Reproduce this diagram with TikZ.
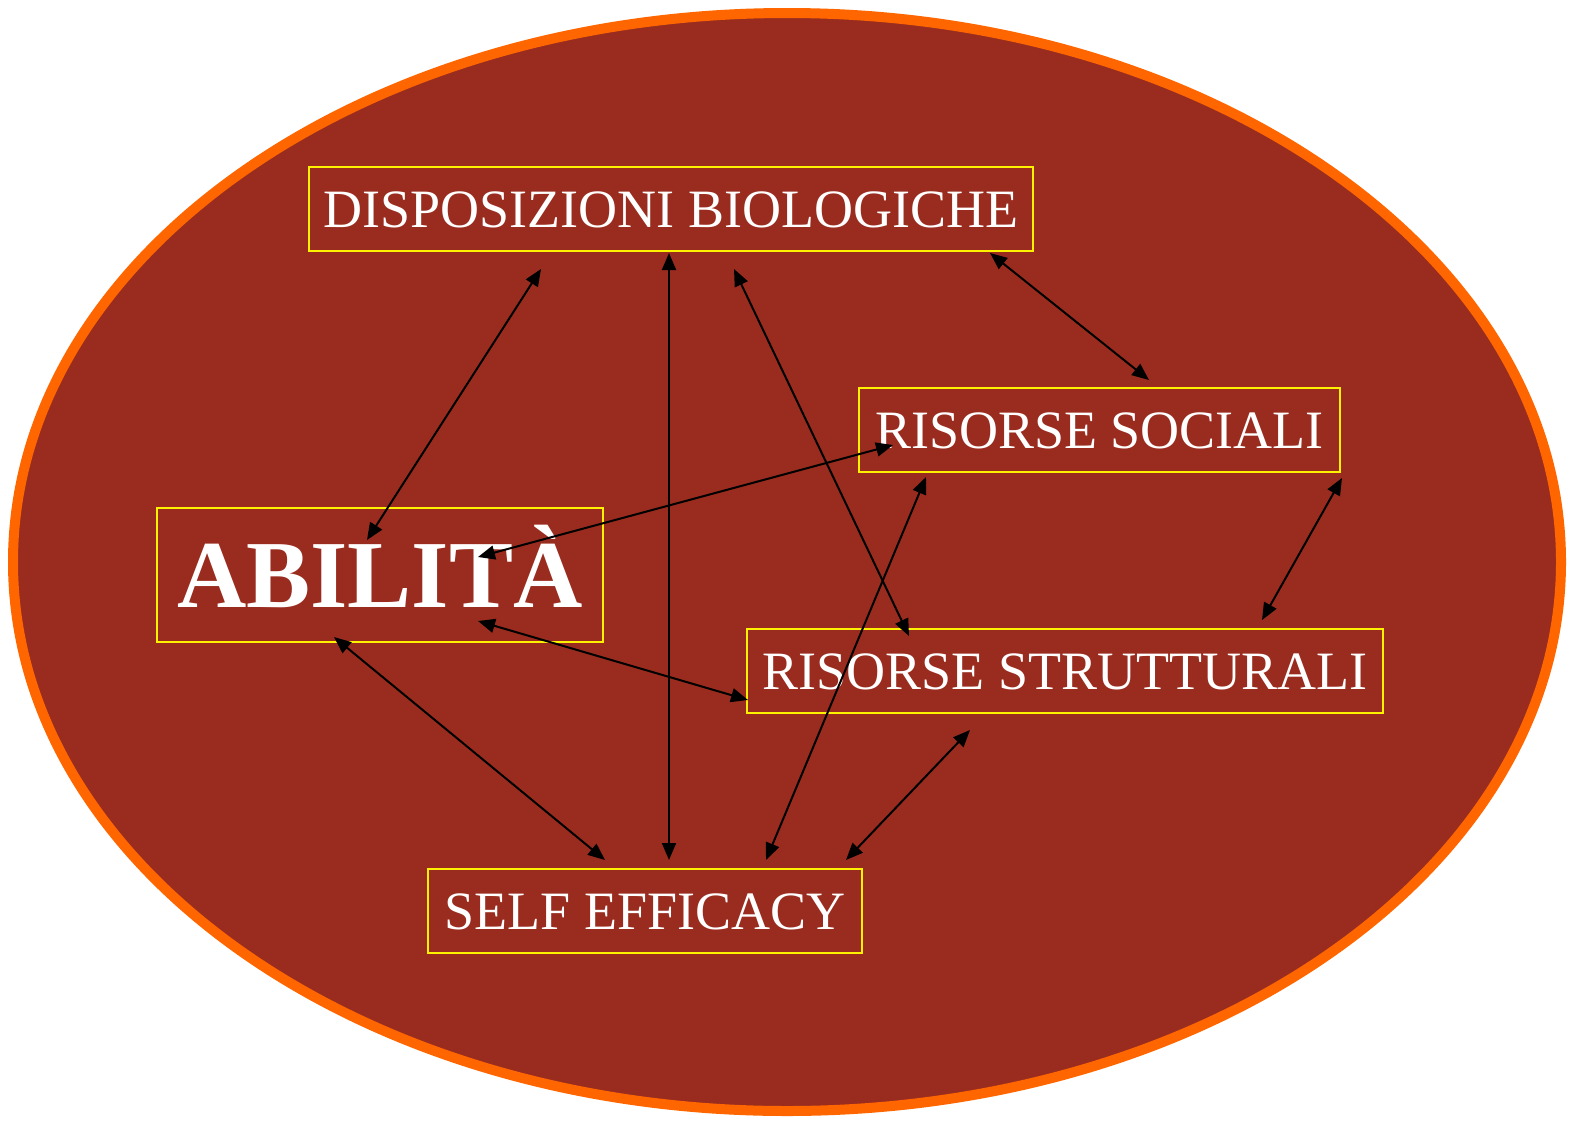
\documentclass[tikz,border=0pt]{standalone}
\usepackage{fontspec}
\setmainfont{Liberation Serif}
\usetikzlibrary{arrows.meta}
\definecolor{bgred}{RGB}{154,44,31}
\definecolor{rimorange}{RGB}{255,102,0}

\begin{document}
\begin{tikzpicture}[x=1pt,y=-1pt,
  box/.style={draw=yellow,line width=2.5pt,text=white,inner sep=0pt,
    minimum height=84pt,text height=36pt,text depth=0pt,
    font=\fontsize{54}{60}\selectfont},
  link/.style={{Triangle[length=17pt,width=14pt]}-{Triangle[length=17pt,width=14pt]},
    line width=2pt,black}]

  \useasboundingbox (0,0) rectangle (1574,1125);

  % outer ellipse
  \draw[rimorange,line width=10pt,fill=bgred] (787,562) ellipse [x radius=774pt, y radius=549pt];

  % boxes
  \node[box,minimum width=724pt] (dispo) at (671,209) {DISPOSIZIONI BIOLOGICHE};
  \node[box,minimum width=446pt,minimum height=134pt,text height=64pt,
    font=\fontsize{96}{100}\selectfont\bfseries] (abil) at (380,575) {ABILIT\`A};
  \node[box,minimum width=481pt] (soc) at (1099.5,430) {RISORSE SOCIALI};
  \node[box,minimum width=636pt] (strut) at (1065,671) {RISORSE STRUTTURALI};
  \node[box,minimum width=434pt] (self) at (645,911) {SELF EFFICACY};

  % arrow ends
  \foreach \name/\x/\y in {dA/541/269, aD/367/540, dE/669/253, eD/669/860,
      dT/734/269, tD/909/636, dS/990/253, sD/1149/380, sA/893/445, aS/478/557,
      sT/1342/478, tS/1262/620, sE/926/477, eS/766/860, aT/478/621, tA/748/700,
      aE/334/637, eA/605/860, tE/970/730, eT/846/860} {
    \coordinate (\name) at (\x,\y);
  };

  % links
  \foreach \a/\b in {dA/aD, dE/eD, dT/tD, dS/sD, sA/aS, sT/tS, sE/eS, aT/tA, aE/eA, tE/eT} {
    \draw[link] (\a) -- (\b);
  };

\end{tikzpicture}
\end{document}
